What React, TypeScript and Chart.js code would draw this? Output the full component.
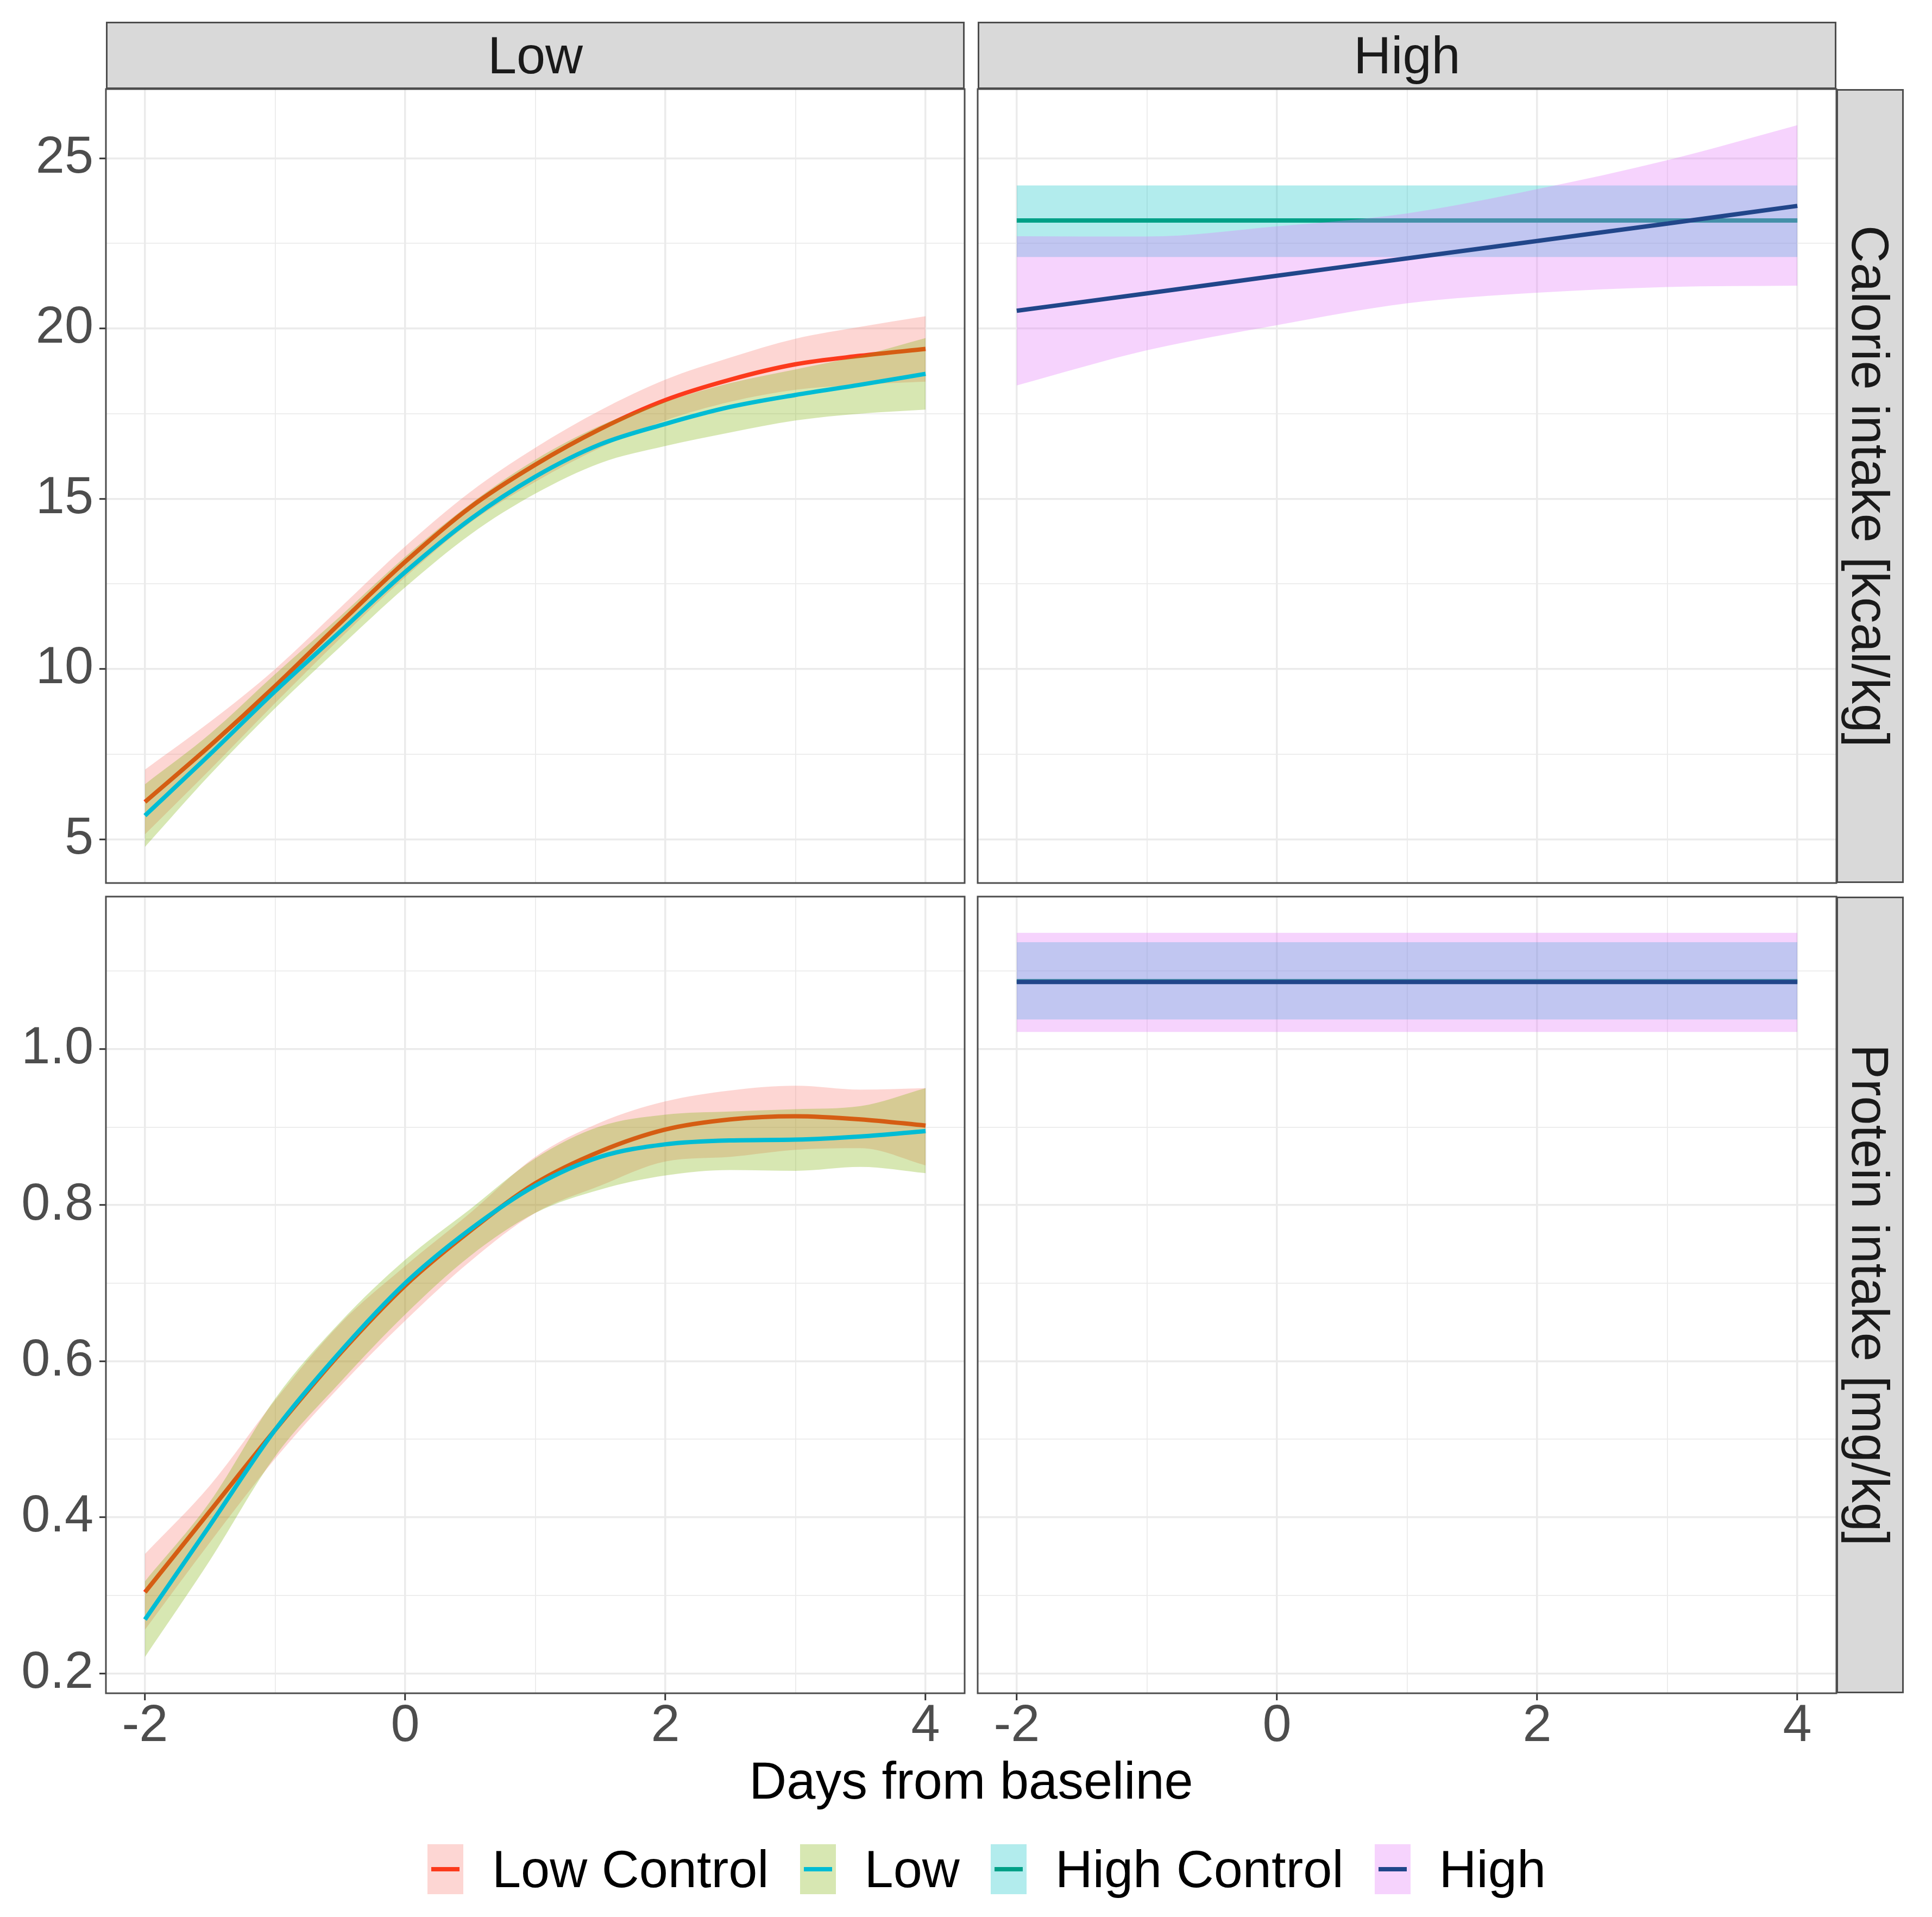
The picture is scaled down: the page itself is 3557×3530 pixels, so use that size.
import { useEffect, useRef } from "react"
import { Chart, registerables } from "chart.js"

Chart.register(...registerables)

const FONT = "'Liberation Sans', Arial, Helvetica, sans-serif"

// Days from baseline at which the fitted curves were read
const daysSmooth = [-2, -1.5, -1, -0.5, 0, 0.5, 1, 1.5, 2, 2.5, 3, 3.5, 4]
const daysLinear = [-2, -1, 0, 1, 2, 3, 4]
const daysFlat = [-2, 4]

// Calorie intake [kcal/kg], "Low" facet
const calorieLowControl = [6.1, 7.75, 9.5, 11.35, 13.15, 14.75, 16.0, 17.05, 17.9, 18.5, 18.95, 19.2, 19.4]
const calorieLowControlUpper = [7.05, 8.45, 10.0, 11.8, 13.6, 15.2, 16.5, 17.6, 18.5, 19.15, 19.7, 20.05, 20.36]
const calorieLowControlLower = [5.15, 7.05, 9.0, 10.9, 12.7, 14.3, 15.5, 16.5, 17.3, 17.85, 18.2, 18.35, 18.44]
const calorieLow = [5.7, 7.5, 9.35, 11.1, 12.85, 14.4, 15.65, 16.6, 17.2, 17.7, 18.05, 18.35, 18.67]
const calorieLowUpper = [6.62, 8.1, 9.85, 11.55, 13.3, 14.85, 16.15, 17.15, 17.85, 18.4, 18.8, 19.2, 19.72]
const calorieLowLower = [4.78, 6.9, 8.85, 10.65, 12.4, 13.95, 15.15, 16.05, 16.55, 16.95, 17.3, 17.5, 17.62]

// Calorie intake [kcal/kg], "High" facet
const calorieHighControl = [23.17, 23.17]
const calorieHighControlUpper = [24.2, 24.2]
const calorieHighControlLower = [22.1, 22.1]
const calorieHigh = [20.52, 21.03, 21.55, 22.06, 22.57, 23.08, 23.6]
const calorieHighUpper = [22.71, 22.7, 23.0, 23.38, 24.09, 24.94, 25.97]
const calorieHighLower = [18.33, 19.36, 20.1, 20.74, 21.05, 21.22, 21.26]

// Protein intake [mg/kg], "Low" facet
const proteinLowControl = [0.304, 0.408, 0.512, 0.61, 0.697, 0.767, 0.828, 0.869, 0.897, 0.91, 0.914, 0.91, 0.902]
const proteinLowControlUpper = [0.353, 0.441, 0.55, 0.648, 0.722, 0.79, 0.862, 0.906, 0.933, 0.947, 0.953, 0.948, 0.95]
const proteinLowControlLower = [0.256, 0.368, 0.475, 0.568, 0.652, 0.728, 0.79, 0.825, 0.856, 0.862, 0.871, 0.873, 0.851]
const proteinLow = [0.269, 0.39, 0.512, 0.612, 0.7, 0.769, 0.825, 0.862, 0.878, 0.883, 0.884, 0.888, 0.895]
const proteinLowUpper = [0.318, 0.42, 0.552, 0.65, 0.73, 0.795, 0.86, 0.901, 0.916, 0.92, 0.923, 0.927, 0.95]
const proteinLowLower = [0.221, 0.345, 0.478, 0.573, 0.66, 0.735, 0.79, 0.82, 0.838, 0.845, 0.844, 0.849, 0.841]

// Protein intake [mg/kg], "High" facet
const proteinHighControl = [1.087, 1.087]
const proteinHighControlUpper = [1.137, 1.137]
const proteinHighControlLower = [1.038, 1.038]
const proteinHigh = [1.086, 1.086]
const proteinHighUpper = [1.149, 1.149]
const proteinHighLower = [1.022, 1.022]

const groupNames = ["Low Control", "Low", "High Control", "High"]
const lineColors = ["#FC3A1C", "#00BCD4", "#00A087", "#21468A"]
const fillColors = [
  "rgba(248, 118, 109, 0.3)",
  "rgba(124, 174, 0, 0.3)",
  "rgba(0, 191, 196, 0.3)",
  "rgba(225, 110, 250, 0.3)",
]

interface Group {
  days: number[]
  fit: number[]
  upper: number[]
  lower: number[]
  kind: number
}

// ggplot style 5% expansion of the data range
const expand = (vals: number[]): [number, number] => {
  const lo = Math.min(...vals)
  const hi = Math.max(...vals)
  const pad = (hi - lo) * 0.05
  return [lo - pad, hi + pad]
}

const xRange = expand(daysSmooth)
const calorieRange = expand([
  ...calorieLowControlUpper, ...calorieLowControlLower, ...calorieLowUpper, ...calorieLowLower,
  ...calorieHighControlUpper, ...calorieHighControlLower, ...calorieHighUpper, ...calorieHighLower,
])
const proteinRange = expand([
  ...proteinLowControlUpper, ...proteinLowControlLower, ...proteinLowUpper, ...proteinLowLower,
  ...proteinHighControlUpper, ...proteinHighControlLower, ...proteinHighUpper, ...proteinHighLower,
])

const isMajor = (v: number, step: number) => Math.abs(v / step - Math.round(v / step)) < 1e-6

const pts = (xs: number[], ys: number[]) => xs.map((x, i) => ({ x, y: ys[i] }))

function groupDatasets(g: Group) {
  const base = {
    pointRadius: 0,
    pointHoverRadius: 0,
    pointHitRadius: 0,
    cubicInterpolationMode: "monotone" as const,
  }
  return [
    { ...base, data: pts(g.days, g.upper), borderColor: "transparent", borderWidth: 0, backgroundColor: fillColors[g.kind], fill: "+1" },
    { ...base, data: pts(g.days, g.lower), borderColor: "transparent", borderWidth: 0, fill: false },
    { ...base, data: pts(g.days, g.fit), borderColor: lineColors[g.kind], borderWidth: 8, fill: false, borderCapStyle: "butt" },
  ]
}

const panelBorder = {
  id: "panelBorder",
  afterDraw(chart: any) {
    const { ctx, chartArea: a } = chart
    ctx.save()
    ctx.strokeStyle = "#4D4D4D"
    ctx.lineWidth = 3
    ctx.strokeRect(a.left, a.top, a.right - a.left, a.bottom - a.top)
    ctx.restore()
  },
}

const zeroPadding = (s: any) => {
  s.paddingLeft = 0
  s.paddingRight = 0
  s.paddingTop = 0
  s.paddingBottom = 0
}

interface PanelProps {
  left: number
  top: number
  width: number
  height: number
  groups: Group[]
  yRange: [number, number]
  yStep: number
  yMajor: number
  yDigits: number
  showY: boolean
  showX: boolean
}

function Panel({ left, top, width, height, groups, yRange, yStep, yMajor, yDigits, showY, showX }: PanelProps) {
  const chartRef = useRef<HTMLCanvasElement>(null)

  useEffect(() => {
    if (!chartRef.current) return
    const datasets = groups.flatMap(groupDatasets).map((d, i) => ({ ...d, order: -i }))
    const tickFont = { family: FONT, size: 95.5, lineHeight: 1 }

    const chart = new Chart(chartRef.current, {
      type: "line",
      data: { datasets: datasets as any },
      options: {
        responsive: false,
        maintainAspectRatio: false,
        animation: false,
        events: [],
        layout: {
          autoPadding: false,
          padding: { left: showY ? 0 : 10, right: 10, top: 10, bottom: showX ? 0 : 10 },
        },
        plugins: {
          legend: { display: false },
          tooltip: { enabled: false },
        },
        scales: {
          x: {
            type: "linear",
            min: xRange[0],
            max: xRange[1],
            border: { display: false },
            grid: {
              color: "#EBEBEB",
              lineWidth: (ctx: any) => (isMajor(ctx.tick.value, 2) ? 3.5 : 1.8),
              drawTicks: showX,
              tickLength: 13,
              tickWidth: 3,
              tickColor: (ctx: any) => (isMajor(ctx.tick.value, 2) ? "#333333" : "rgba(0,0,0,0)"),
            },
            ticks: {
              display: showX,
              stepSize: 1,
              includeBounds: false,
              autoSkip: false,
              maxRotation: 0,
              minRotation: 0,
              padding: 1,
              color: "#4D4D4D",
              font: tickFont,
              callback: (v: any) => (isMajor(Number(v), 2) ? String(Math.round(Number(v))) : ""),
            },
            afterFit: (s: any) => {
              s.height = showX ? 110 : 0
              zeroPadding(s)
            },
          },
          y: {
            type: "linear",
            min: yRange[0],
            max: yRange[1],
            border: { display: false },
            grid: {
              color: "#EBEBEB",
              lineWidth: (ctx: any) => (isMajor(ctx.tick.value, yMajor) ? 3.5 : 1.8),
              drawTicks: showY,
              tickLength: 12,
              tickWidth: 3,
              tickColor: (ctx: any) => (isMajor(ctx.tick.value, yMajor) ? "#333333" : "rgba(0,0,0,0)"),
            },
            ticks: {
              display: showY,
              stepSize: yStep,
              includeBounds: false,
              autoSkip: false,
              padding: 11,
              color: "#4D4D4D",
              font: tickFont,
              callback: (v: any) => (isMajor(Number(v), yMajor) ? Number(v).toFixed(yDigits) : ""),
            },
            afterFit: (s: any) => {
              s.width = showY ? 195 : 0
              zeroPadding(s)
            },
          },
        },
      },
      plugins: [panelBorder],
    })

    return () => {
      chart.destroy()
    }
  }, [])

  return (
    <canvas
      ref={chartRef}
      width={width}
      height={height}
      style={{ position: "absolute", left, top, width, height, display: "block" }}
    />
  )
}

function Strip({ left, top, width, height, text, vertical }: { left: number; top: number; width: number; height: number; text: string; vertical?: boolean }) {
  return (
    <div
      style={{
        position: "absolute",
        left,
        top,
        width,
        height,
        boxSizing: "border-box",
        background: "#D9D9D9",
        border: "3px solid #4D4D4D",
        display: "flex",
        alignItems: "center",
        justifyContent: "center",
        color: "#1A1A1A",
        fontSize: 95.5,
        lineHeight: "96px",
      }}
    >
      <span style={{ writingMode: vertical ? "vertical-rl" : "horizontal-tb", whiteSpace: "nowrap" }}>{text}</span>
    </div>
  )
}

function Legend() {
  return (
    <div style={{ position: "absolute", left: 787, top: 3392, height: 100, display: "flex", alignItems: "center" }}>
      {groupNames.map((name, i) => (
        <div key={name} style={{ display: "flex", alignItems: "center", marginRight: 57 }}>
          <div style={{ position: "relative", width: 66, height: 92, background: fillColors[i], marginRight: 53 }}>
            <div style={{ position: "absolute", left: 7, right: 7, top: 42, height: 8, background: lineColors[i] }} />
          </div>
          <span style={{ fontSize: 95.5, lineHeight: "96px", whiteSpace: "nowrap", color: "#000" }}>{name}</span>
        </div>
      ))}
    </div>
  )
}

const calorieLowGroups: Group[] = [
  { days: daysSmooth, fit: calorieLowControl, upper: calorieLowControlUpper, lower: calorieLowControlLower, kind: 0 },
  { days: daysSmooth, fit: calorieLow, upper: calorieLowUpper, lower: calorieLowLower, kind: 1 },
]
const calorieHighGroups: Group[] = [
  { days: daysFlat, fit: calorieHighControl, upper: calorieHighControlUpper, lower: calorieHighControlLower, kind: 2 },
  { days: daysLinear, fit: calorieHigh, upper: calorieHighUpper, lower: calorieHighLower, kind: 3 },
]
const proteinLowGroups: Group[] = [
  { days: daysSmooth, fit: proteinLowControl, upper: proteinLowControlUpper, lower: proteinLowControlLower, kind: 0 },
  { days: daysSmooth, fit: proteinLow, upper: proteinLowUpper, lower: proteinLowLower, kind: 1 },
]
const proteinHighGroups: Group[] = [
  { days: daysFlat, fit: proteinHighControl, upper: proteinHighControlUpper, lower: proteinHighControlLower, kind: 2 },
  { days: daysFlat, fit: proteinHigh, upper: proteinHighUpper, lower: proteinHighLower, kind: 3 },
]

export default function App() {
  return (
    <div
      style={{
        position: "absolute",
        left: 0,
        top: 0,
        width: 3557,
        height: 3530,
        background: "#FFFFFF",
        fontFamily: FONT,
        overflow: "hidden",
      }}
    >
      <Strip left={195} top={40} width={1581} height={124} text="Low" />
      <Strip left={1800} top={40} width={1581} height={124} text="High" />
      <Strip left={3381} top={164} width={124} height={1462} text="Calorie intake [kcal/kg]" vertical />
      <Strip left={3381} top={1651} width={124} height={1467} text="Protein intake [mg/kg]" vertical />

      <Panel left={0} top={154} width={1786} height={1482} groups={calorieLowGroups}
        yRange={calorieRange} yStep={2.5} yMajor={5} yDigits={0} showY showX={false} />
      <Panel left={1790} top={154} width={1601} height={1482} groups={calorieHighGroups}
        yRange={calorieRange} yStep={2.5} yMajor={5} yDigits={0} showY={false} showX={false} />
      <Panel left={0} top={1641} width={1786} height={1587} groups={proteinLowGroups}
        yRange={proteinRange} yStep={0.1} yMajor={0.2} yDigits={1} showY showX />
      <Panel left={1790} top={1641} width={1601} height={1587} groups={proteinHighGroups}
        yRange={proteinRange} yStep={0.1} yMajor={0.2} yDigits={1} showY={false} showX />

      <div
        style={{
          position: "absolute",
          left: 195,
          width: 3186,
          top: 3231,
          textAlign: "center",
          fontSize: 95.5,
          lineHeight: "96px",
          color: "#000",
        }}
      >
        Days from baseline
      </div>
      <Legend />
    </div>
  )
}
